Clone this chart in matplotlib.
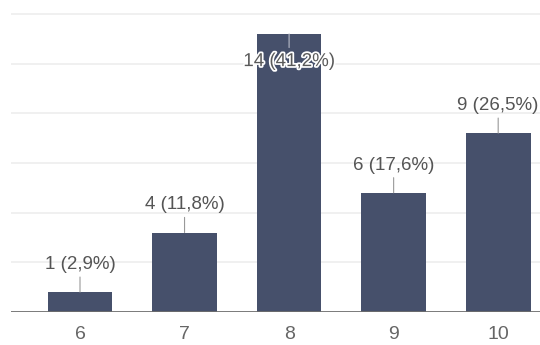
import matplotlib
matplotlib.use("Agg")
import matplotlib.pyplot as plt
import matplotlib.patheffects as pe

plt.rcParams["font.family"] = ["Liberation Sans", "DejaVu Sans"]

# datos
categories = ["6", "7", "8", "9", "10"]
counts = [1, 4, 14, 6, 9]
labels = ["1 (2,9%)", "4 (11,8%)", "14 (41,2%)", "6 (17,6%)", "9 (26,5%)"]
grid_levels = [2.5, 5, 7.5, 10, 12.5, 15]

BAR_COLOR = "#46506b"
TEXT_COLOR = "#555555"


def plot_chart():
    fig = plt.figure(figsize=(5.4, 3.45), dpi=100)
    ax = fig.add_axes([11 / 540, 33 / 345, 529 / 540, 304 / 345])

    x = list(range(len(categories)))
    ax.bar(x, counts, width=0.62, color=BAR_COLOR, zorder=2)

    for g in grid_levels:
        ax.axhline(g, color="#eeeeee", lw=1.2, zorder=0)
    ax.axhline(0, color="#6e6e6e", lw=2, zorder=3)

    ymax = 15.3
    for i, (v, lab) in enumerate(zip(counts, labels)):
        inside = v > ymax - 2
        if inside:
            ax.annotate(lab, xy=(i, v), xytext=(0, -20), textcoords="offset points",
                        ha="center", va="center", fontsize=13.5, color="#5a5a5a",
                        path_effects=[pe.withStroke(linewidth=2.5, foreground="white")],
                        arrowprops=dict(arrowstyle="-", color="#b8bcc8", lw=0.8,
                                        shrinkA=2, shrinkB=0),
                        zorder=4)
        else:
            ax.annotate(lab, xy=(i, v), xytext=(0, 20), textcoords="offset points",
                        ha="center", va="center", fontsize=13.5, color=TEXT_COLOR,
                        arrowprops=dict(arrowstyle="-", color="#999999", lw=0.8,
                                        shrinkA=1, shrinkB=0),
                        zorder=4)

    ax.set_xlim(-0.66, 4.40)
    ax.set_ylim(0, ymax)
    ax.set_xticks(x)
    ax.set_xticklabels(categories, fontsize=14, color="#666666")
    ax.set_yticks([])
    ax.tick_params(axis="x", length=0, pad=10)
    for s in ax.spines.values():
        s.set_visible(False)

    fig.savefig("out.png", dpi=100)


def main():
    plot_chart()


if __name__ == "__main__":
    main()
